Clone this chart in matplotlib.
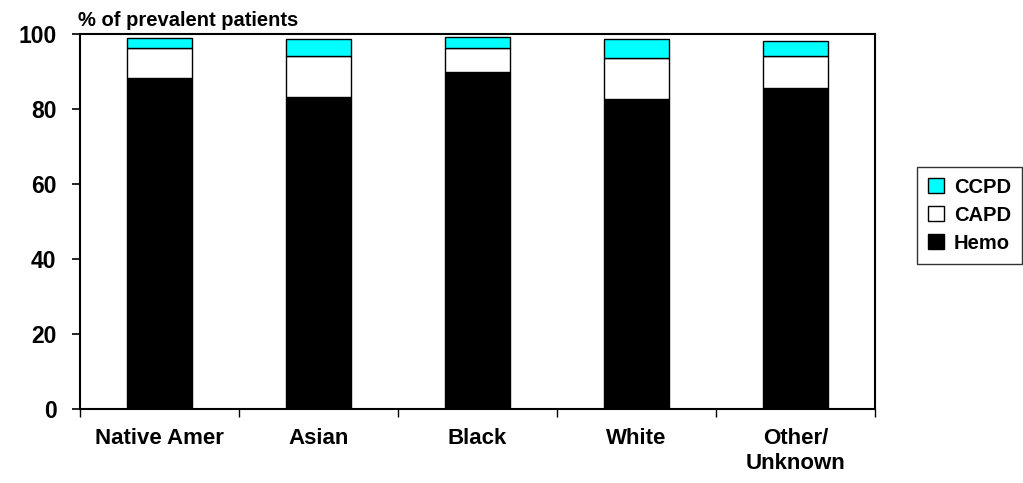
import numpy as np
import matplotlib
matplotlib.use('Agg')
import matplotlib.pyplot as plt
from matplotlib.patches import Patch

plt.rcParams['font.family'] = ['Liberation Sans', 'DejaVu Sans']
plt.rcParams['font.weight'] = 'bold'

# ── Données : modalité de dialyse par race (% des patients prévalents) ──
races = ['Native Amer', 'Asian', 'Black', 'White', 'Other/\nUnknown']
hemo = [88.2, 83.1, 90.0, 82.8, 85.7]
capd = [8.0, 11.0, 6.4, 10.7, 8.5]
ccpd = [2.8, 4.7, 2.9, 5.1, 4.0]

hemo = np.array(hemo)
capd = np.array(capd)
ccpd = np.array(ccpd)
x = np.arange(len(races))

fig = plt.figure(figsize=(10.23, 4.83), dpi=100)
ax = fig.add_axes([0.0782, 0.1532, 0.7772, 0.7764])

w = 0.41
ax.bar(x, hemo, w, color='black', edgecolor='black', linewidth=1)
ax.bar(x, capd, w, bottom=hemo, color='white', edgecolor='black', linewidth=1)
ax.bar(x, ccpd, w, bottom=hemo + capd, color='#00FFFF', edgecolor='black', linewidth=1)

ax.set_xlim(-0.5, len(races) - 0.5)
ax.set_ylim(0, 100)
ax.set_yticks(np.arange(0, 101, 20))
ax.tick_params(axis='y', direction='out', length=6, width=1.2, labelsize=16.5, pad=11)
for lab in ax.get_yticklabels():
    lab.set_fontweight('bold')

# étiquettes centrées, graduations entre les catégories
ax.set_xticks(x)
ax.set_xticklabels(races, fontsize=16, fontweight='bold', linespacing=1.25)
ax.tick_params(axis='x', which='major', length=0, pad=14)
ax.set_xticks(np.arange(-0.5, len(races), 1), minor=True)
ax.tick_params(axis='x', which='minor', direction='out', length=6, width=1)

for s in ax.spines.values():
    s.set_linewidth(1.5)
    s.set_color('black')

ax.text(-0.002, 1.01, '% of prevalent patients', transform=ax.transAxes,
        ha='left', va='bottom', fontsize=14.5, fontweight='bold')

handles = [Patch(facecolor='#00FFFF', edgecolor='black', label='CCPD'),
           Patch(facecolor='white', edgecolor='black', label='CAPD'),
           Patch(facecolor='black', edgecolor='black', label='Hemo')]
leg = fig.legend(handles=handles, loc='upper left', bbox_to_anchor=(0.896, 0.655),
                 prop={'weight': 'bold', 'size': 14.5}, frameon=True, fancybox=False,
                 handlelength=0.8, handleheight=0.75, handletextpad=0.5,
                 labelspacing=0.45, borderpad=0.55, borderaxespad=0)
leg.get_frame().set_edgecolor('black')
leg.get_frame().set_linewidth(1)

fig.savefig('out.png', dpi=100)
